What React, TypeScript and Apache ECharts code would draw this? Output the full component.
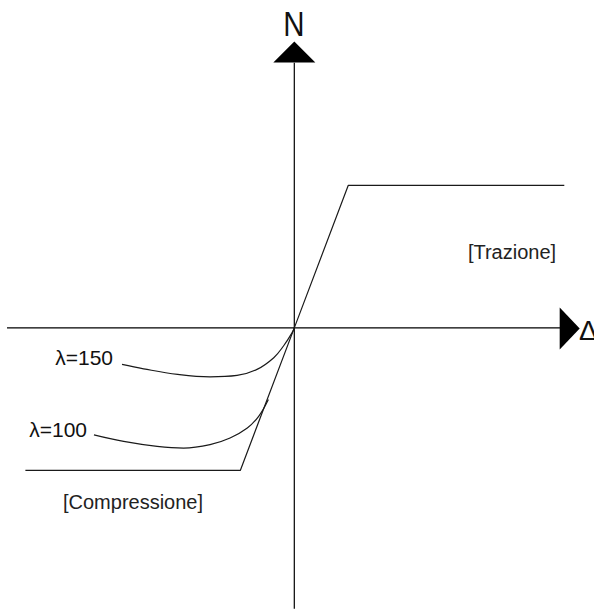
import React, { useEffect, useRef } from "react";
import * as echarts from "echarts";

// Elastic–perfectly-plastic law (Δ, N)
const elastoPlastic: [number, number][] = [
  [-4.98, -1.0],
  [-1.0, -1.0],
  [0, 0],
  [1.0, 1.0],
  [5.0, 1.0],
];

// Buckling curves (compression side)
const lambda150: [number, number][] = [
  [-3.19, -0.256],
  [-2.79, -0.287],
  [-2.16, -0.326],
  [-1.56, -0.343],
  [-1.06, -0.333],
  [-0.69, -0.291],
  [-0.38, -0.209],
  [-0.2, -0.127],
  [-0.04, -0.033],
  [0, 0],
];

const lambda100: [number, number][] = [
  [-3.71, -0.75],
  [-3.16, -0.796],
  [-2.54, -0.831],
  [-2.05, -0.843],
  [-1.56, -0.819],
  [-1.19, -0.772],
  [-0.87, -0.702],
  [-0.66, -0.62],
  [-0.48, -0.502],
];

// Axes (drawn as lines) and arrow heads
const xAxisLine: [number, number][] = [
  [-5.32, 0],
  [4.92, 0],
];
const yAxisLine: [number, number][] = [
  [0, -1.97],
  [0, 1.86],
];
const yArrow: [number, number][] = [[0, 1.935]];
const xArrow: [number, number][] = [[5.1, -0.004]];

const FONT = "'Liberation Sans', Arial, Helvetica, sans-serif";
const INK = "#1a1a1a";

export default function App() {
  const ref = useRef<HTMLDivElement>(null);

  useEffect(() => {
    if (!ref.current) return;
    const chart = echarts.init(ref.current, null, { renderer: "svg" });
    const lineStyle = { color: INK, width: 1.2 };
    chart.setOption({
      animation: false,
      backgroundColor: "#ffffff",
      grid: { left: 0, right: 0, top: 0, bottom: 0 },
      xAxis: {
        type: "value",
        min: -5.45,
        max: 5.55,
        show: false,
      },
      yAxis: {
        type: "value",
        min: -2.0,
        max: 2.3,
        show: false,
      },
      series: [
        {
          type: "line",
          data: xAxisLine,
          symbol: "none",
          silent: true,
          lineStyle: { color: "#000", width: 1.2 },
        },
        {
          type: "line",
          data: yAxisLine,
          symbol: "none",
          silent: true,
          lineStyle: { color: "#000", width: 1.2 },
        },
        {
          type: "scatter",
          data: yArrow,
          symbol: "triangle",
          symbolSize: [42, 21],
          itemStyle: { color: "#000", opacity: 1 },
          silent: true,
        },
        {
          type: "scatter",
          data: xArrow,
          symbol: "triangle",
          symbolSize: [42, 20],
          symbolRotate: -90,
          itemStyle: { color: "#000", opacity: 1 },
          silent: true,
        },
        {
          type: "line",
          data: elastoPlastic,
          symbol: "none",
          silent: true,
          lineStyle,
        },
        {
          type: "line",
          data: lambda150,
          symbol: "none",
          smooth: 0.4,
          silent: true,
          lineStyle,
        },
        {
          type: "line",
          data: lambda100,
          symbol: "none",
          smooth: 0.4,
          silent: true,
          lineStyle,
        },
      ],
      graphic: [
        {
          type: "text",
          x: 294,
          y: 23,
          scaleX: 0.82,
          style: {
            text: "N",
            font: `36px ${FONT}`,
            fill: "#111",
            align: "center",
            verticalAlign: "middle",
          },
        },
        {
          type: "text",
          x: 579,
          y: 330,
          style: {
            text: "Δ",
            font: `28px ${FONT}`,
            fill: "#111",
            align: "left",
            verticalAlign: "middle",
          },
        },
        {
          type: "text",
          x: 113,
          y: 357,
          style: {
            text: "λ=150",
            font: `21px ${FONT}`,
            fill: "#111",
            align: "right",
            verticalAlign: "middle",
          },
        },
        {
          type: "text",
          x: 87,
          y: 429,
          style: {
            text: "λ=100",
            font: `21px ${FONT}`,
            fill: "#111",
            align: "right",
            verticalAlign: "middle",
          },
        },
        {
          type: "text",
          x: 512,
          y: 252,
          style: {
            text: "[Trazione]",
            font: `20px ${FONT}`,
            fill: "#222",
            align: "center",
            verticalAlign: "middle",
          },
        },
        {
          type: "text",
          x: 133,
          y: 502,
          style: {
            text: "[Compressione]",
            font: `20px ${FONT}`,
            fill: "#222",
            align: "center",
            verticalAlign: "middle",
          },
        },
      ],
    });
    return () => chart.dispose();
  }, []);

  return (
    <div
      ref={ref}
      style={{ position: "fixed", left: 0, top: 0, width: 594, height: 613 }}
    />
  );
}
